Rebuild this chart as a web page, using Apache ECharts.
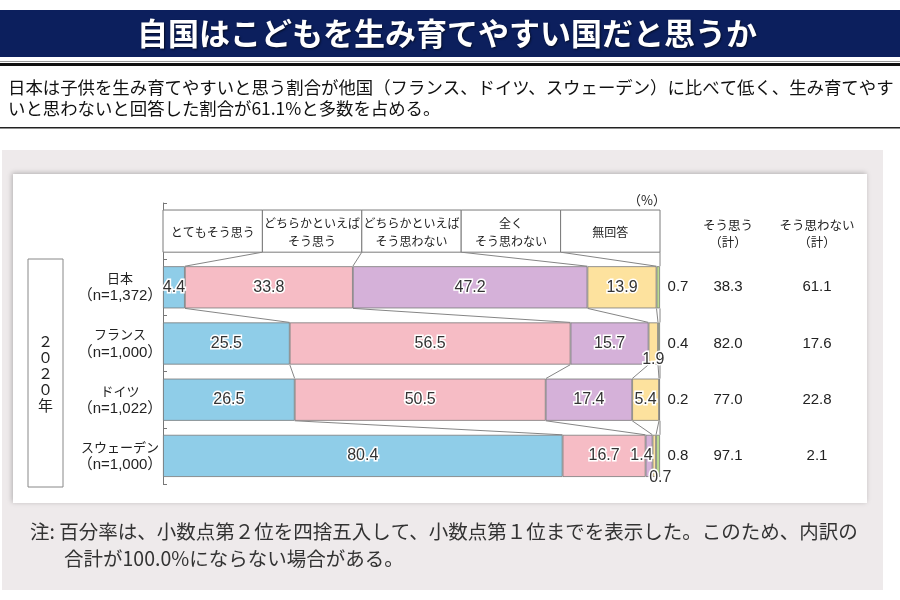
<!DOCTYPE html>
<html><head><meta charset="utf-8">
<script src="https://cdn.jsdelivr.net/npm/echarts@6/dist/echarts.min.js"></script>
<style>html,body{margin:0;padding:0;background:#fff}#c{width:900px;height:600px}</style>
</head><body><div id="c"></div>
<script>
// ---- data ----
const categories = ['日本\n（n=1,372）', 'フランス\n（n=1,000）', 'ドイツ\n（n=1,022）', 'スウェーデン\n（n=1,000）'];
const responseLabels = ['とてもそう思う', 'どちらかといえば\nそう思う', 'どちらかといえば\nそう思わない', '全く\nそう思わない', '無回答'];
const veryMuch    = [4.4, 25.5, 26.5, 80.4];
const somewhat    = [33.8, 56.5, 50.5, 16.7];
const somewhatNot = [47.2, 15.7, 17.4, 1.4];
const notAtAll    = [13.9, 1.9, 5.4, 0.7];
const noAnswer    = [0.7, 0.4, 0.2, 0.8];
const agreeTotal    = [38.3, 82.0, 77.0, 97.1];
const disagreeTotal = [61.1, 17.6, 22.8, 2.1];
const totalHeaders = ['そう思う\n（計）', 'そう思わない\n（計）'];

// ---- setup ----
const JP = "'Noto Sans CJK JP','Noto Sans',sans-serif";
const NUM = "'Liberation Sans','Noto Sans CJK JP',sans-serif";
const NARROW = "'Liberation Sans Narrow','Liberation Sans','Noto Sans CJK JP',sans-serif";
const colors = ['#8fcde8', '#f6bcc5', '#d5b1d9', '#fde29e', '#b9db8e'];
const segs = [veryMuch, somewhat, somewhatNot, notAtAll, noAnswer];
const yCats = [''].concat(categories);
const BAR_FRAC = 0.75;

function cumRow(i) {
  const out = []; let s = 0;
  for (let k = 0; k < 4; k++) { s += segs[k][i]; out.push(s); }
  out.push(100);
  return out;
}
const headerBounds = responseLabels.map((_, k) => (k + 1) * 100 / responseLabels.length);

const labelBase = {
  show: true, position: 'inside', fontSize: 16, color: '#333', fontFamily: NUM,
  textBorderColor: '#fff', textBorderWidth: 3,
  formatter: p => (typeof p.value === 'number' ? p.value.toFixed(1) : '')
};

const labelOverrides = {
  '2-3': { position: 'insideRight', distance: 0 },                      // Sweden 1.4
  '3-1': { position: 'insideBottom', distance: 0, offset: [0, 3] },     // France 1.9
  '3-3': { position: 'bottom', distance: 0, offset: [6, -7] }           // Sweden 0.7
};

const barSeries = segs.map((arr, k) => ({
  name: responseLabels[k].replace('\n', ''),
  type: 'bar', stack: 'all', barWidth: (BAR_FRAC * 100) + '%',
  itemStyle: { color: colors[k], borderColor: '#7a7a7a', borderWidth: 0.8 },
  label: Object.assign({}, labelBase, { show: k < 4 }),
  data: ['-'].concat(arr.map((v, i) => {
    const ov = labelOverrides[k + '-' + i];
    return ov ? { value: v, label: ov } : v;
  })),
  z: 3
}));

const headerSeries = {
  type: 'custom', clip: false, z: 3,
  data: responseLabels.map((_, k) => [k]),
  renderItem: (params, api) => {
    const k = api.value(0);
    const w = 100 / responseLabels.length;
    const p0 = api.coord([k * w, 0]);
    const p1 = api.coord([(k + 1) * w, 0]);
    const h = api.size([0, 1])[1] * BAR_FRAC;
    return { type: 'group', children: [
      { type: 'rect', shape: { x: p0[0], y: p0[1] - h / 2, width: p1[0] - p0[0], height: h },
        style: { fill: '#fff', stroke: '#7a7a7a', lineWidth: 1 } },
      { type: 'text', x: (p0[0] + p1[0]) / 2, y: p0[1] + 1,
        style: { text: responseLabels[k], fill: '#222', fontSize: 12, fontFamily: JP,
                 lineHeight: 18, textAlign: 'center', textVerticalAlign: 'middle' } }
    ]};
  }
};

const connectorSeries = {
  type: 'custom', clip: false, z: 2,
  data: categories.map((_, i) => [i]),
  renderItem: (params, api) => {
    const i = api.value(0);
    const upper = i === 0 ? headerBounds : cumRow(i - 1);
    const lower = cumRow(i);
    const h = api.size([0, 1])[1] * BAR_FRAC;
    const children = upper.map((u, k) => {
      const a = api.coord([u, i]);
      const b = api.coord([lower[k], i + 1]);
      return { type: 'line', shape: { x1: a[0], y1: a[1] + h / 2, x2: b[0], y2: b[1] - h / 2 },
               style: { stroke: '#777', lineWidth: 0.9 } };
    });
    return { type: 'group', children };
  }
};

const totalsSeries = {
  type: 'custom', clip: false, z: 3,
  data: categories.map((_, i) => [i + 1, noAnswer[i], agreeTotal[i], disagreeTotal[i]]),
  renderItem: (params, api) => {
    const row = api.value(0);
    const p = api.coord([100, row]);
    const mk = (dx, v) => ({ type: 'text', x: p[0] + dx, y: p[1],
      style: { text: v.toFixed(1), fill: '#222', fontSize: 15, fontFamily: NARROW,
               textAlign: 'center', textVerticalAlign: 'middle' } });
    return { type: 'group', children: [mk(18, api.value(1)), mk(68, api.value(2)), mk(157, api.value(3))] };
  }
};

const chart = echarts.init(document.getElementById('c'), null, { renderer: 'canvas' });
chart.setOption({
  animation: false,
  backgroundColor: '#fff',
  grid: { left: 163, top: 203, width: 497, height: 281, containLabel: false },
  xAxis: { type: 'value', min: 0, max: 100, show: false },
  yAxis: {
    type: 'category', inverse: true, data: yCats,
    axisLine: { show: true, lineStyle: { color: '#777', width: 1 } },
    axisTick: { show: true, inside: true, length: 4, lineStyle: { color: '#777' } },
    axisLabel: {
      align: 'center', margin: 43, color: '#222',
      formatter: v => {
        if (!v) return '';
        const parts = v.split('\n');
        return '{a|' + parts[0] + '}\n{b|' + parts[1] + '}';
      },
      rich: {
        a: { fontSize: 13, lineHeight: 18, fontFamily: JP, color: '#222', align: 'center' },
        b: { fontSize: 15, lineHeight: 18, fontFamily: NUM, color: '#222', align: 'center' }
      }
    },
    splitLine: { show: false }
  },
  graphic: [
    { type: 'rect', shape: { x: 0, y: 10, width: 900, height: 47 }, style: { fill: '#0c1f5d' }, z: 0 },
    { type: 'text', x: 447, y: 33, style: { text: '自国はこどもを生み育てやすい国だと思うか', fill: '#fff',
      fontSize: 31, fontWeight: 'bold', fontFamily: JP, textAlign: 'center', textVerticalAlign: 'middle',
      textShadowColor: 'rgba(0,0,0,0.6)', textShadowBlur: 2, textShadowOffsetX: 1, textShadowOffsetY: 1 } },
    { type: 'rect', shape: { x: 0, y: 61, width: 900, height: 1 }, style: { fill: '#999' } },
    { type: 'rect', shape: { x: 0, y: 63, width: 900, height: 3 }, style: { fill: '#111' } },
    { type: 'text', x: 8, y: 87, style: { text: '日本は子供を生み育てやすいと思う割合が他国（フランス、ドイツ、スウェーデン）に比べて低く、生み育てやす',
      fill: '#111', fontSize: 17.4, fontFamily: JP, textVerticalAlign: 'middle' } },
    { type: 'text', x: 8, y: 108, style: { text: 'いと思わないと回答した割合が61.1%と多数を占める。',
      fill: '#111', fontSize: 17.4, fontFamily: JP, textVerticalAlign: 'middle' } },
    { type: 'rect', shape: { x: 0, y: 127, width: 900, height: 1.5 }, style: { fill: '#222' } },
    { type: 'rect', shape: { x: 2, y: 150, width: 881, height: 440 }, style: { fill: '#eeeaeb' }, z: -10 },
    { type: 'rect', shape: { x: 13, y: 174, width: 854, height: 329 },
      style: { fill: '#fff', shadowColor: 'rgba(0,0,0,0.25)', shadowBlur: 5, shadowOffsetX: -1, shadowOffsetY: -1 }, z: -9 },
    { type: 'rect', shape: { x: 28, y: 259, width: 35, height: 228 }, style: { fill: '#fff', stroke: '#888', lineWidth: 1 } },
    { type: 'text', x: 45.5, y: 373, style: { text: '２\n０\n２\n０\n年', fill: '#222', fontSize: 15, lineHeight: 16,
      fontFamily: JP, textAlign: 'center', textVerticalAlign: 'middle' } },
    { type: 'text', x: 647, y: 200, style: { text: '（%）', fill: '#222', fontSize: 13, fontFamily: JP,
      textAlign: 'center', textVerticalAlign: 'middle' } },
    { type: 'text', x: 728, y: 234, style: { text: totalHeaders[0], fill: '#222', fontSize: 12.5, lineHeight: 17,
      fontFamily: JP, textAlign: 'center', textVerticalAlign: 'middle' } },
    { type: 'text', x: 817, y: 234, style: { text: totalHeaders[1], fill: '#222', fontSize: 12.5, lineHeight: 17,
      fontFamily: JP, textAlign: 'center', textVerticalAlign: 'middle' } },
    { type: 'text', x: 30, y: 532, style: { text: '注: 百分率は、小数点第２位を四捨五入して、小数点第１位までを表示した。このため、内訳の',
      fill: '#333', fontSize: 19.5, fontFamily: JP, textVerticalAlign: 'middle' } },
    { type: 'text', x: 64, y: 559, style: { text: '合計が100.0%にならない場合がある。',
      fill: '#333', fontSize: 19.5, fontFamily: JP, textVerticalAlign: 'middle' } }
  ],
  series: barSeries.concat([headerSeries, connectorSeries, totalsSeries])
});
</script></body></html>
